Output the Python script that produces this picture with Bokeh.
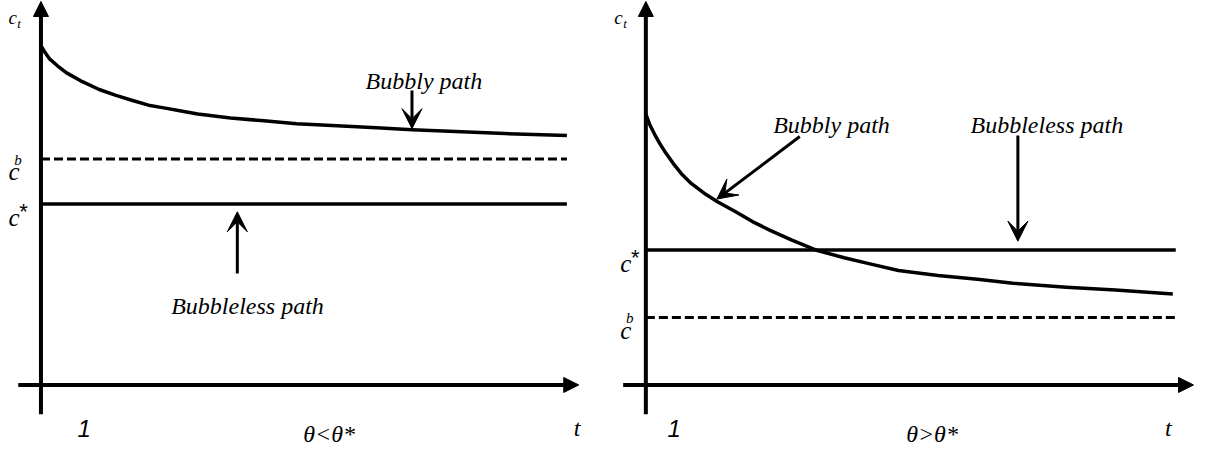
from bokeh.plotting import figure
from bokeh.models import Range1d, Arrow, NormalHead, VeeHead
from bokeh.layouts import row
from bokeh.embed import file_html
from bokeh.resources import INLINE
from bokeh.core.properties import value

# ---------------- data (t measured from the c-axis, c measured up from the t-axis) ----------
# Left panel: theta < theta*
left_t = [0, 4, 9, 17, 26, 42, 59, 76, 92, 109, 126, 142, 159, 192, 226, 259, 300, 340, 376, 420, 470, 533]
left_bubbly = [347, 340, 333, 326, 319, 310, 302, 296, 291, 286, 283, 280, 277, 273, 270, 267, 265, 263, 261, 259, 257, 255]
left_c_star = 185
left_c_b = 231
left_t_end = 533
left_title = "θ<θ*"

# Right panel: theta > theta*
right_t = [0, 4, 9, 14, 19, 28, 36, 46, 59, 73, 91, 108, 126, 148, 172, 201, 226, 256, 296, 336, 372, 426, 476, 534]
right_bubbly = [277, 266, 256, 247, 239, 226, 216, 206, 196, 187, 177, 167, 158, 148, 138, 130, 124, 117, 112, 108, 104, 100, 97, 93]
right_c_star = 138
right_c_b = 69
right_t_end = 537
right_title = "θ>θ*"

# annotation anchors (t, c)
left_bubbly_label = (329, 311)
left_bubbly_arrow = (376, 301, 376, 262)
left_bubbleless_label = (132, 81)
left_bubbleless_arrow = (199, 114, 199, 177)

right_bubbly_label = (129, 266)
right_bubbly_arrow = (156, 254, 72, 190)
right_bubbleless_label = (329, 266)
right_bubbleless_arrow = (377, 255, 377, 147)

SERIF = value("Liberation Serif")
SANS = value("Liberation Sans")


def make_panel(width, xr, t, bub, c_star, c_b, t_end, title, title_x,
               bl_lab, bl_arr, bs_lab, bs_arr, x_axis_start, x_axis_end,
               lab_x, ct_x, one_x, t_x):
    p = figure(width=width, height=450, x_range=Range1d(*xr), y_range=Range1d(-67, 393),
               output_backend="svg", toolbar_location=None, min_border=0,
               x_axis_type=None, y_axis_type=None)
    p.grid.visible = False
    p.outline_line_color = None
    p.background_fill_color = "white"
    p.border_fill_color = "white"

    # axes with arrowheads
    p.add_layout(Arrow(end=NormalHead(size=15, fill_color="black", line_color="black"),
                       x_start=0, y_start=-30, x_end=0, y_end=392,
                       line_width=4, line_color="black"))
    p.add_layout(Arrow(end=NormalHead(size=15, fill_color="black", line_color="black"),
                       x_start=x_axis_start, y_start=0, x_end=x_axis_end, y_end=0,
                       line_width=4, line_color="black"))

    # reference levels
    p.line([0, t_end], [c_star, c_star], line_width=3.5, line_color="black")
    p.line([0, t_end], [c_b, c_b], line_width=3, line_color="black", line_dash="9 4")

    # bubbly path curve
    p.line(t, bub, line_width=3.5, line_color="black", line_join="round")

    # annotation arrows
    for (x0, y0, x1, y1) in (bl_arr, bs_arr):
        p.add_layout(Arrow(end=VeeHead(size=20, fill_color="black", line_color="black"),
                           x_start=x0, y_start=y0, x_end=x1, y_end=y1,
                           line_width=3, line_color="black"))

    # annotation labels
    p.text(x=[bl_lab[0], bs_lab[0]], y=[bl_lab[1], bs_lab[1]],
           text=["Bubbly path", "Bubbleless path"],
           text_font=SERIF, text_font_style="italic", text_font_size="24px",
           text_align="left", text_baseline="alphabetic", text_color="black")

    # c_t label
    p.text(x=[ct_x], y=[376], text=["c"],
           text_font=SERIF, text_font_style="italic", text_font_size="19px",
           text_align="left", text_baseline="alphabetic", text_color="black")
    p.text(x=[ct_x + 9], y=[369], text=["t"],
           text_font=SERIF, text_font_style="italic", text_font_size="13px",
           text_align="left", text_baseline="alphabetic", text_color="black")
    # c* and c^b labels
    p.text(x=[lab_x, lab_x], y=[c_star - 14, c_b - 13], text=["c", "c"],
           text_font=SERIF, text_font_style="italic", text_font_size="25px",
           text_align="left", text_baseline="alphabetic", text_color="black")
    p.text(x=[lab_x + 6], y=[c_b - 1], text=["b"],
           text_font=SERIF, text_font_style="italic", text_font_size="15px",
           text_align="left", text_baseline="alphabetic", text_color="black")
    p.text(x=[lab_x + 11], y=[c_star + 5], text=["*"],
           text_font=SANS, text_font_size="22px",
           text_align="left", text_baseline="top", text_color="black")

    # t-axis labels
    p.text(x=[one_x], y=[-44], text=["1"],
           text_font=SANS, text_font_style="italic", text_font_size="24px",
           text_align="left", text_baseline="alphabetic", text_color="black")
    p.text(x=[t_x], y=[-44], text=["t"],
           text_font=SERIF, text_font_style="italic", text_font_size="24px",
           text_align="left", text_baseline="alphabetic", text_color="black")
    p.text(x=[title_x], y=[-50], text=[title],
           text_font=SERIF, text_font_style="italic", text_font_size="24px",
           text_align="center", text_baseline="alphabetic", text_color="black")
    return p


left = make_panel(597, (-41, 564), left_t, left_bubbly, left_c_star, left_c_b, left_t_end,
                  left_title, 292, left_bubbly_label, left_bubbly_arrow,
                  left_bubbleless_label, left_bubbleless_arrow, -23, 545,
                  -33, -33, 37, 540)
right = make_panel(598, (-49, 557), right_t, right_bubbly, right_c_star, right_c_b, right_t_end,
                   right_title, 290, right_bubbly_label, right_bubbly_arrow,
                   right_bubbleless_label, right_bubbleless_arrow, -23, 555,
                   -26, -32, 22, 526)

layout = row(left, right, spacing=0)
open("out.html", "w").write(file_html(layout, INLINE))
